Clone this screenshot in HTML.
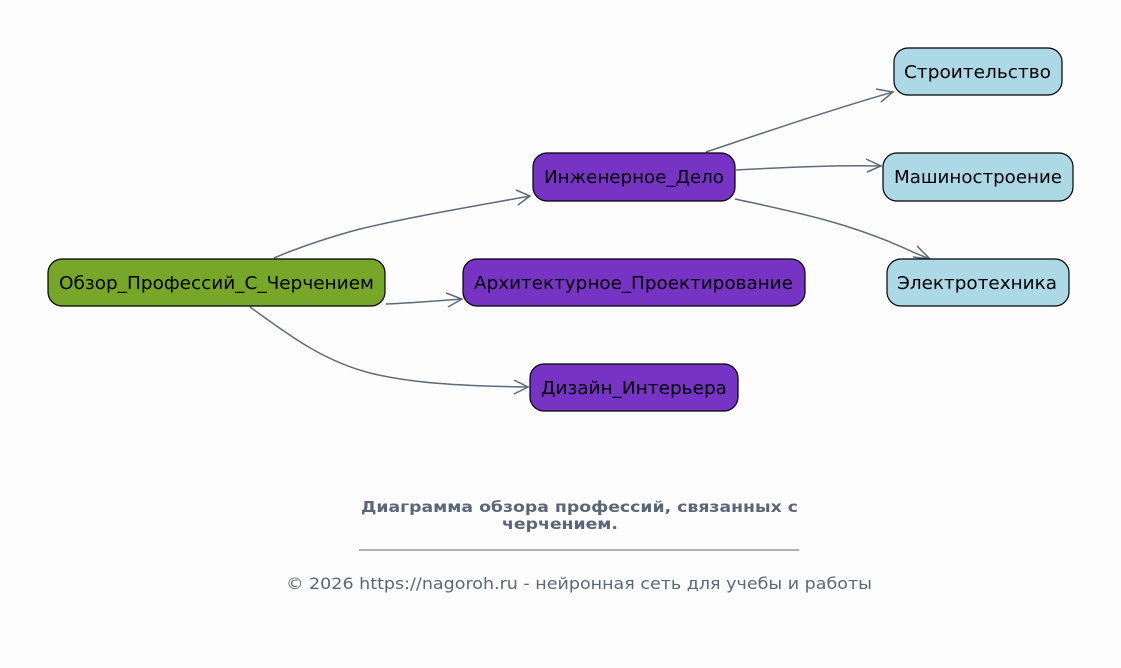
<!DOCTYPE html>
<html><head><meta charset="utf-8"><style>
body{margin:0;background:#fdfdfd;}
svg{display:block;}
text{font-family:"DejaVu Sans","Liberation Sans",sans-serif;}
</style></head><body>
<svg width="1121" height="668" viewBox="0 0 1121 668" xmlns="http://www.w3.org/2000/svg">
<rect width="1121" height="668" fill="#fdfdfd"/>
<g fill="none" stroke="#5f6b7a" stroke-width="1.5">
<path d="M274,258 C300,247 330,237 360,229 C410,217 470,207 530,196"/>
<path d="M386,304 C410,303 435,301 462,299"/>
<path d="M250,307 C285,332 320,360 370,373 C410,383 460,386 528,387"/>
<path d="M706,152 C760,134 830,110 893,92"/>
<path d="M736,170 C790,167 840,165 881,166"/>
<path d="M735,199 C790,211 850,222 915,253 L930,259"/>
<path d="M516,190 L530,196 L518,205"/>
<path d="M446,293 L462,299 L448,307"/>
<path d="M514,380 L528,387 L514,394"/>
<path d="M876,89 L893,92 L881,102"/>
<path d="M866,159 L881,166 L867,172"/>
<path d="M917,246 L930,259 L913,257"/>
</g>
<g stroke="#000" stroke-width="1.2">
<rect x="48" y="259" width="337" height="47" rx="14" fill="#76a728"/>
<rect x="533" y="153" width="202" height="48" rx="14" fill="#7733c4"/>
<rect x="463" y="259" width="342" height="47" rx="14" fill="#7733c4"/>
<rect x="530" y="364" width="208" height="47" rx="14" fill="#7733c4"/>
<rect x="894" y="48" width="168" height="47" rx="14" fill="#add8e6"/>
<rect x="883" y="153" width="190" height="48" rx="14" fill="#add8e6"/>
<rect x="887" y="259" width="182" height="47" rx="14" fill="#add8e6"/>
</g>
<g font-size="17.5" fill="#000" lengthAdjust="spacingAndGlyphs">
<text x="59" y="289" textLength="315" lengthAdjust="spacingAndGlyphs">Обзор_Профессий_С_Черчением</text>
<text x="544" y="183" textLength="180" lengthAdjust="spacingAndGlyphs">Инженерное_Дело</text>
<text x="474" y="289" textLength="319" lengthAdjust="spacingAndGlyphs">Архитектурное_Проектирование</text>
<text x="541" y="394" textLength="186" lengthAdjust="spacingAndGlyphs">Дизайн_Интерьера</text>
<text x="904" y="78" textLength="147" lengthAdjust="spacingAndGlyphs">Строительство</text>
<text x="894" y="183" textLength="168" lengthAdjust="spacingAndGlyphs">Машиностроение</text>
<text x="897" y="289" textLength="160" lengthAdjust="spacingAndGlyphs">Электротехника</text>
</g>
<g fill="#5a6778">
<text x="361" y="512" font-size="15.5" font-weight="bold" textLength="437" lengthAdjust="spacingAndGlyphs">Диаграмма обзора профессий, связанных с</text>
<text x="502" y="529" font-size="15.5" font-weight="bold" textLength="116" lengthAdjust="spacingAndGlyphs">черчением.</text>
<line x1="359" y1="550" x2="799" y2="550" stroke="#5a6778" stroke-width="1"/>
<text x="286" y="589" font-size="16" textLength="586" lengthAdjust="spacingAndGlyphs">© 2026 https://nagoroh.ru - нейронная сеть для учебы и работы</text>
</g>
</svg>
</body></html>
